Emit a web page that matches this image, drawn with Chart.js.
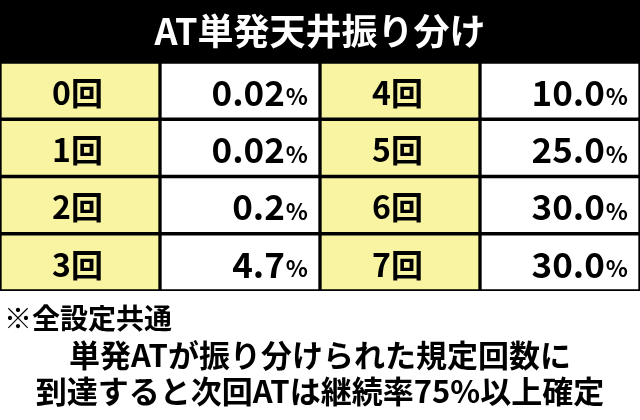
<!DOCTYPE html>
<html><head><meta charset="utf-8">
<script src="https://cdn.jsdelivr.net/npm/chart.js@4"></script>
<style>html,body{margin:0;padding:0;background:#fff}#c{display:block}</style>
</head><body>
<canvas id="c" width="640" height="420"></canvas>
<script>
const title = "AT単発天井振り分け";
const rows = ["r0","r1","r2","r3"];
const leftLabels = ["0回","1回","2回","3回"];
const leftValues = ["0.02","0.02","0.2","4.7"];
const rightLabels = ["4回","5回","6回","7回"];
const rightValues = ["10.0","25.0","30.0","30.0"];
const notes = ["※全設定共通","単発ATが振り分けられた規定回数に","到達すると次回ATは継続率75%以上確定"];
const FONT = '"Noto Sans CJK JP","Noto Sans",sans-serif';
const Y = '#f8f4a2', W = '#ffffff';
const cols = [Y,W,Y,W];
const datasets = cols.map((c,i)=>({data:rows.map(()=>1),backgroundColor:c,borderColor:'#000',borderWidth:2,borderSkipped:false,barPercentage:1,categoryPercentage:1}));
const deco = {
  id:'deco',
  beforeDraw(ch){const x=ch.ctx,a=ch.chartArea;x.save();x.fillStyle='#fff';x.fillRect(0,0,640,420);x.fillStyle='#000';x.fillRect(0,0,640,62);
    x.fillRect(0,a.top,640,a.bottom-a.top);
    x.fillStyle='#fff';x.font='bold 36px '+FONT;x.textAlign='center';x.textBaseline='middle';x.fillText(title,320,31);x.restore();},
  afterDraw(ch){const x=ch.ctx,xs=ch.scales.x,ys=ch.scales.y;x.save();x.fillStyle='#000';x.textBaseline='middle';
    rows.forEach((r,i)=>{const cy=ys.getPixelForValue(i)+2;
      x.font='bold 32px '+FONT;x.textAlign='left';
      x.fillText(leftLabels[i],xs.getPixelForValue(0)+52,cy);
      x.fillText(rightLabels[i],xs.getPixelForValue(2)+52,cy);
      [[leftValues[i],2],[rightValues[i],4]].forEach(([v,c])=>{const rx=xs.getPixelForValue(c)-12;
        x.font='bold 23px '+FONT;x.textAlign='right';x.fillText('%',rx,cy+4);const pw=x.measureText('%').width;
        x.font='bold 35px '+FONT;x.fillText(v,rx-pw-1,cy);});
    });
    x.font='bold 28px '+FONT;x.textAlign='left';x.fillText(notes[0],4,318);
    x.font='bold 31px '+FONT;x.textAlign='center';x.fillText(notes[1],320,355);x.fillText(notes[2],320,391);
    x.restore();}
};
new Chart(document.getElementById('c'),{type:'bar',data:{labels:rows,datasets},
  options:{indexAxis:'y',responsive:false,animation:false,layout:{padding:{top:62,bottom:129,left:0,right:0}},
    plugins:{legend:{display:false},tooltip:{enabled:false}},
    scales:{x:{stacked:true,min:0,max:4,display:false},y:{stacked:true,display:false}}},
  plugins:[deco]});
</script></body></html>
